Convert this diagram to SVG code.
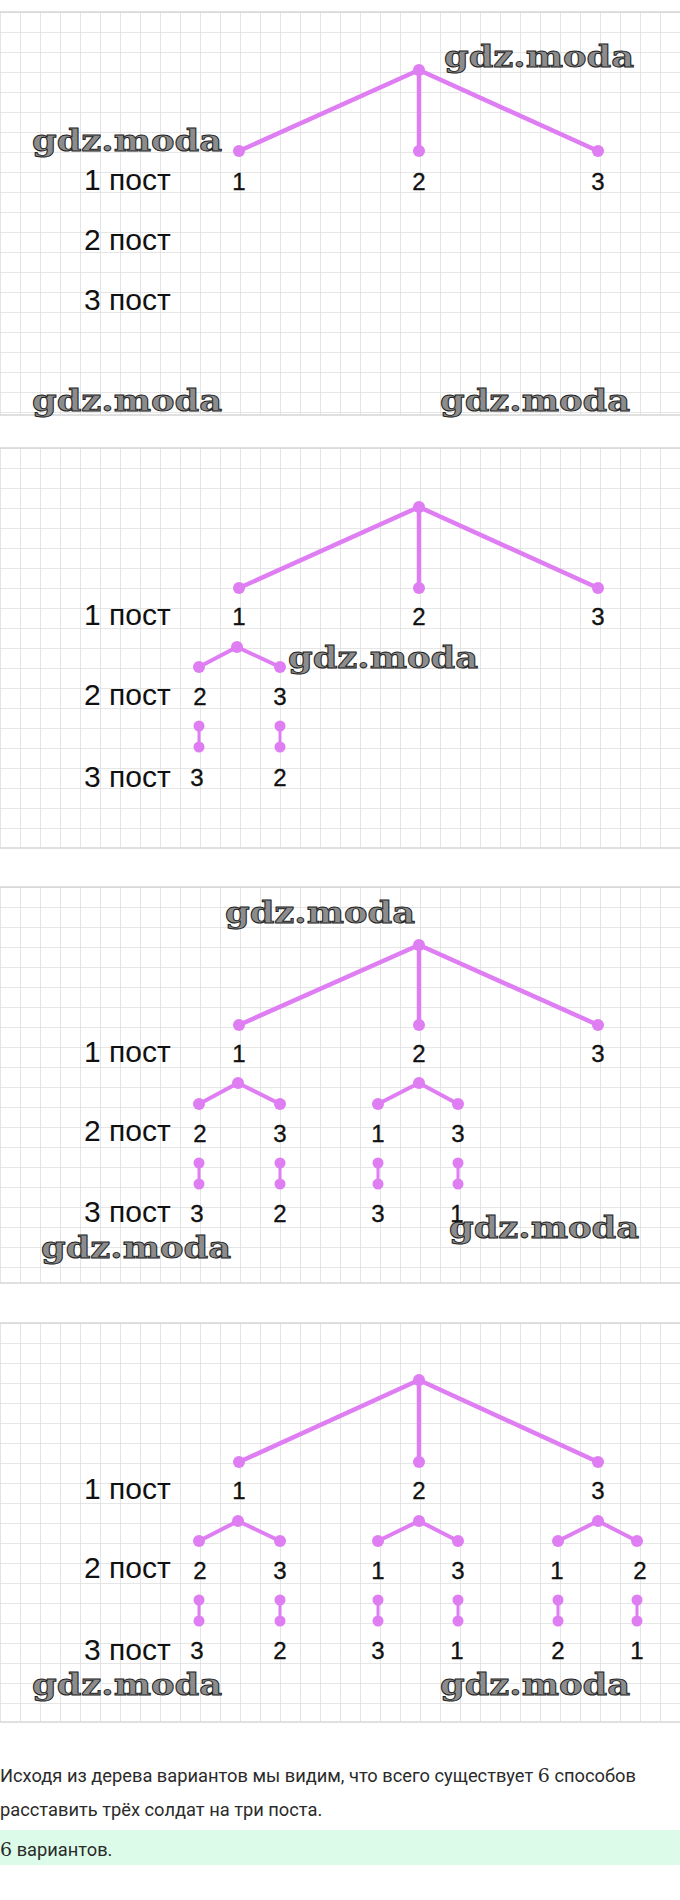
<svg xmlns="http://www.w3.org/2000/svg" width="680" height="1900" viewBox="0 0 680 1900">
<style>
.edge{stroke:#df7ef2;stroke-width:4.5;stroke-linecap:round;fill:none}
.sub{stroke:#df7ef2;stroke-width:4;stroke-linecap:round;fill:none}
.vert{stroke:#df7ef2;stroke-width:3;fill:none}
.dot{fill:#df7ef2}
.lbl{font-family:"Liberation Sans",Arial,sans-serif;font-size:24px;fill:#111;stroke:#111;stroke-width:0.35;text-anchor:middle}
.post{font-family:"Liberation Sans",Arial,sans-serif;font-size:30px;fill:#111}
.wm{font-family:"DejaVu Serif","Liberation Serif",serif;font-weight:bold;font-size:30px;fill:#8c8c8c;stroke:#222;stroke-width:0.9}
.body{font-family:Roboto,"Liberation Sans",sans-serif;font-size:18.3px;fill:#2a2a2a}
.math{font-family:"DejaVu Serif","Liberation Serif",serif;font-size:19px}
.edgeline{stroke:#d6d6d6;stroke-width:1.5}
</style>
<defs>
<pattern id="grid" width="20" height="20" patternUnits="userSpaceOnUse">
<path d="M0 0H20M0 0V20" stroke="#dedede" stroke-width="1.6" fill="none"/>
</pattern>
</defs>
<rect width="680" height="1900" fill="#fff"/>
<g id="panels">
<g transform="translate(0,12)"><rect width="680" height="403" fill="url(#grid)"/></g>
<g transform="translate(0,448)"><rect width="680" height="400" fill="url(#grid)"/></g>
<g transform="translate(0,887)"><rect width="680" height="396" fill="url(#grid)"/></g>
<g transform="translate(0,1323)"><rect width="680" height="399" fill="url(#grid)"/></g>
<path class="edgeline" d="M0 12H680M0 415H680M0 448H680M0 848H680M0 887H680M0 1283H680M0 1323H680M0 1722H680"/>
</g>

<g id="connectors">
<path class="edge" d="M419 70L239 151M419 70V151M419 70L598 151"/>
<path class="edge" d="M419 507L239 588M419 507V588M419 507L598 588"/>
<path class="sub" d="M237 647L199 667M237 647L280 667"/>
<path class="vert" d="M199 726V747M280 726V747"/>
<path class="edge" d="M419 945L239 1025M419 945V1025M419 945L598 1025"/>
<path class="sub" d="M238 1083L199 1104M238 1083L280 1104M419 1083L378 1104M419 1083L458 1104"/>
<path class="vert" d="M199 1163V1184M280 1163V1184M378 1163V1184M458 1163V1184"/>
<path class="edge" d="M419 1380L239 1462M419 1380V1462M419 1380L598 1462"/>
<path class="sub" d="M238 1521L199 1541M238 1521L280 1541M419 1521L378 1541M419 1521L458 1541M598 1521L558 1541M598 1521L637 1541"/>
<path class="vert" d="M199 1600V1621M280 1600V1621M378 1600V1621M458 1600V1621M558 1600V1621M637 1600V1621"/>
</g>

<g id="p1-root"><circle class="dot" cx="419" cy="70" r="6"/></g>
<g id="p1-n1"><circle class="dot" cx="239" cy="151" r="6"/><text class="lbl" x="239" y="190">1</text></g>
<g id="p1-n2"><circle class="dot" cx="419" cy="151" r="6"/><text class="lbl" x="419" y="190">2</text></g>
<g id="p1-n3"><circle class="dot" cx="598" cy="151" r="6"/><text class="lbl" x="598" y="190">3</text></g>
<g id="p1-posts">
<text class="post" x="84" y="190">1 пост</text>
<text class="post" x="84" y="250">2 пост</text>
<text class="post" x="84" y="310">3 пост</text>
</g>

<g id="p2-root"><circle class="dot" cx="419" cy="507" r="6"/></g>
<g id="p2-n1"><circle class="dot" cx="239" cy="588" r="6"/><text class="lbl" x="239" y="625">1</text></g>
<g id="p2-n2"><circle class="dot" cx="419" cy="588" r="6"/><text class="lbl" x="419" y="625">2</text></g>
<g id="p2-n3"><circle class="dot" cx="598" cy="588" r="6"/><text class="lbl" x="598" y="625">3</text></g>
<g id="p2-s1"><circle class="dot" cx="237" cy="647" r="6"/></g>
<g id="p2-n12"><circle class="dot" cx="199" cy="667" r="6"/><text class="lbl" x="200" y="705">2</text></g>
<g id="p2-n13"><circle class="dot" cx="280" cy="667" r="6"/><text class="lbl" x="280" y="705">3</text></g>
<g id="p2-n123"><circle class="dot" cx="199" cy="726" r="5.5"/><circle class="dot" cx="199" cy="747" r="5.5"/><text class="lbl" x="197" y="786">3</text></g>
<g id="p2-n132"><circle class="dot" cx="280" cy="726" r="5.5"/><circle class="dot" cx="280" cy="747" r="5.5"/><text class="lbl" x="280" y="786">2</text></g>
<g id="p2-posts">
<text class="post" x="84" y="625">1 пост</text>
<text class="post" x="84" y="705">2 пост</text>
<text class="post" x="84" y="787">3 пост</text>
</g>

<g id="p3-root"><circle class="dot" cx="419" cy="945" r="6"/></g>
<g id="p3-n1"><circle class="dot" cx="239" cy="1025" r="6"/><text class="lbl" x="239" y="1062">1</text></g>
<g id="p3-n2"><circle class="dot" cx="419" cy="1025" r="6"/><text class="lbl" x="419" y="1062">2</text></g>
<g id="p3-n3"><circle class="dot" cx="598" cy="1025" r="6"/><text class="lbl" x="598" y="1062">3</text></g>
<g id="p3-s1"><circle class="dot" cx="238" cy="1083" r="6"/></g>
<g id="p3-s2"><circle class="dot" cx="419" cy="1083" r="6"/></g>
<g id="p3-n12"><circle class="dot" cx="199" cy="1104" r="6"/><text class="lbl" x="200" y="1142">2</text></g>
<g id="p3-n13"><circle class="dot" cx="280" cy="1104" r="6"/><text class="lbl" x="280" y="1142">3</text></g>
<g id="p3-n21"><circle class="dot" cx="378" cy="1104" r="6"/><text class="lbl" x="378" y="1142">1</text></g>
<g id="p3-n23"><circle class="dot" cx="458" cy="1104" r="6"/><text class="lbl" x="458" y="1142">3</text></g>
<g id="p3-n123"><circle class="dot" cx="199" cy="1163" r="5.5"/><circle class="dot" cx="199" cy="1184" r="5.5"/><text class="lbl" x="197" y="1222">3</text></g>
<g id="p3-n132"><circle class="dot" cx="280" cy="1163" r="5.5"/><circle class="dot" cx="280" cy="1184" r="5.5"/><text class="lbl" x="280" y="1222">2</text></g>
<g id="p3-n213"><circle class="dot" cx="378" cy="1163" r="5.5"/><circle class="dot" cx="378" cy="1184" r="5.5"/><text class="lbl" x="378" y="1222">3</text></g>
<g id="p3-n231"><circle class="dot" cx="458" cy="1163" r="5.5"/><circle class="dot" cx="458" cy="1184" r="5.5"/><text class="lbl" x="457" y="1222">1</text></g>
<g id="p3-posts">
<text class="post" x="84" y="1062">1 пост</text>
<text class="post" x="84" y="1141">2 пост</text>
<text class="post" x="84" y="1222">3 пост</text>
</g>

<g id="p4-root"><circle class="dot" cx="419" cy="1380" r="6"/></g>
<g id="p4-n1"><circle class="dot" cx="239" cy="1462" r="6"/><text class="lbl" x="239" y="1499">1</text></g>
<g id="p4-n2"><circle class="dot" cx="419" cy="1462" r="6"/><text class="lbl" x="419" y="1499">2</text></g>
<g id="p4-n3"><circle class="dot" cx="598" cy="1462" r="6"/><text class="lbl" x="598" y="1499">3</text></g>
<g id="p4-s1"><circle class="dot" cx="238" cy="1521" r="6"/></g>
<g id="p4-s2"><circle class="dot" cx="419" cy="1521" r="6"/></g>
<g id="p4-s3"><circle class="dot" cx="598" cy="1521" r="6"/></g>
<g id="p4-n12"><circle class="dot" cx="199" cy="1541" r="6"/><text class="lbl" x="200" y="1579">2</text></g>
<g id="p4-n13"><circle class="dot" cx="280" cy="1541" r="6"/><text class="lbl" x="280" y="1579">3</text></g>
<g id="p4-n21"><circle class="dot" cx="378" cy="1541" r="6"/><text class="lbl" x="378" y="1579">1</text></g>
<g id="p4-n23"><circle class="dot" cx="458" cy="1541" r="6"/><text class="lbl" x="458" y="1579">3</text></g>
<g id="p4-n31"><circle class="dot" cx="558" cy="1541" r="6"/><text class="lbl" x="557" y="1579">1</text></g>
<g id="p4-n32"><circle class="dot" cx="637" cy="1541" r="6"/><text class="lbl" x="640" y="1579">2</text></g>
<g id="p4-n123"><circle class="dot" cx="199" cy="1600" r="5.5"/><circle class="dot" cx="199" cy="1621" r="5.5"/><text class="lbl" x="197" y="1659">3</text></g>
<g id="p4-n132"><circle class="dot" cx="280" cy="1600" r="5.5"/><circle class="dot" cx="280" cy="1621" r="5.5"/><text class="lbl" x="280" y="1659">2</text></g>
<g id="p4-n213"><circle class="dot" cx="378" cy="1600" r="5.5"/><circle class="dot" cx="378" cy="1621" r="5.5"/><text class="lbl" x="378" y="1659">3</text></g>
<g id="p4-n231"><circle class="dot" cx="458" cy="1600" r="5.5"/><circle class="dot" cx="458" cy="1621" r="5.5"/><text class="lbl" x="457" y="1659">1</text></g>
<g id="p4-n312"><circle class="dot" cx="558" cy="1600" r="5.5"/><circle class="dot" cx="558" cy="1621" r="5.5"/><text class="lbl" x="558" y="1659">2</text></g>
<g id="p4-n321"><circle class="dot" cx="637" cy="1600" r="5.5"/><circle class="dot" cx="637" cy="1621" r="5.5"/><text class="lbl" x="637" y="1659">1</text></g>
<g id="p4-posts">
<text class="post" x="84" y="1499">1 пост</text>
<text class="post" x="84" y="1578">2 пост</text>
<text class="post" x="84" y="1660">3 пост</text>
</g>

<g id="watermarks">
<text class="wm" x="444" y="67" textLength="190" lengthAdjust="spacingAndGlyphs">gdz.moda</text>
<text class="wm" x="32" y="151" textLength="190" lengthAdjust="spacingAndGlyphs">gdz.moda</text>
<text class="wm" x="32" y="411" textLength="190" lengthAdjust="spacingAndGlyphs">gdz.moda</text>
<text class="wm" x="440" y="411" textLength="190" lengthAdjust="spacingAndGlyphs">gdz.moda</text>
<text class="wm" x="288" y="668" textLength="190" lengthAdjust="spacingAndGlyphs">gdz.moda</text>
<text class="wm" x="225" y="923" textLength="190" lengthAdjust="spacingAndGlyphs">gdz.moda</text>
<text class="wm" x="41" y="1258" textLength="190" lengthAdjust="spacingAndGlyphs">gdz.moda</text>
<text class="wm" x="449" y="1238" textLength="190" lengthAdjust="spacingAndGlyphs">gdz.moda</text>
<text class="wm" x="32" y="1695" textLength="190" lengthAdjust="spacingAndGlyphs">gdz.moda</text>
<text class="wm" x="440" y="1695" textLength="190" lengthAdjust="spacingAndGlyphs">gdz.moda</text>
</g>

<g id="answer">
<text class="body" x="0" y="1782">Исходя из дерева вариантов мы видим, что всего существует <tspan class="math">6</tspan> способов</text>
<text class="body" x="0" y="1816">расставить трёх солдат на три поста.</text>
<rect x="0" y="1830" width="680" height="35" fill="#dcfce9"/>
<text class="body" x="0" y="1856"><tspan class="math">6</tspan> вариантов.</text>
</g>
</svg>
